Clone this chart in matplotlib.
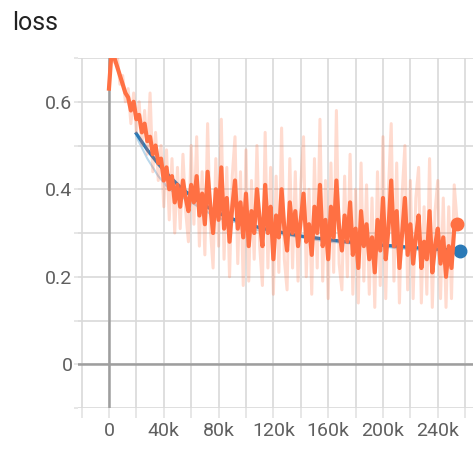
import numpy as np
import matplotlib
matplotlib.use("Agg")
import matplotlib.pyplot as plt
from matplotlib.ticker import FuncFormatter, MultipleLocator

plt.rcParams['font.family'] = ['Roboto', 'DejaVu Sans']

# run 1 (orange): smoothed and raw loss, one value every 2k steps
orange_smooth = [
    0.63, 0.72, 0.70, 0.68, 0.66, 0.64, 0.62, 0.61, 0.58, 0.60,
    0.56, 0.57, 0.53, 0.55, 0.51, 0.52, 0.48, 0.50, 0.46, 0.47,
    0.42, 0.45, 0.40, 0.43, 0.37, 0.41, 0.36, 0.42, 0.38, 0.35,
    0.41, 0.37, 0.43, 0.34, 0.39, 0.32, 0.44, 0.36, 0.30, 0.40,
    0.33, 0.45, 0.31, 0.38, 0.28, 0.36, 0.42, 0.31, 0.37, 0.29,
    0.39, 0.27, 0.35, 0.30, 0.40, 0.33, 0.27, 0.41, 0.30, 0.36,
    0.24, 0.34, 0.29, 0.40, 0.31, 0.26, 0.37, 0.30, 0.35, 0.27,
    0.33, 0.39, 0.28, 0.32, 0.25, 0.36, 0.30, 0.41, 0.27, 0.33,
    0.24, 0.36, 0.29, 0.42, 0.31, 0.26, 0.34, 0.28, 0.37, 0.25,
    0.31, 0.22, 0.35, 0.27, 0.32, 0.24, 0.29, 0.21, 0.33, 0.26,
    0.38, 0.24, 0.31, 0.42, 0.27, 0.35, 0.22, 0.30, 0.38, 0.25,
    0.32, 0.23, 0.29, 0.34, 0.22, 0.28, 0.24, 0.35, 0.21, 0.27,
    0.31, 0.23, 0.29, 0.20, 0.27, 0.22, 0.31, 0.32,
]
orange_raw = [
    0.63, 0.74, 0.69, 0.71, 0.64, 0.66, 0.60, 0.63, 0.55, 0.62,
    0.53, 0.60, 0.50, 0.58, 0.48, 0.62, 0.44, 0.53, 0.42, 0.50,
    0.36, 0.49, 0.33, 0.47, 0.30, 0.45, 0.31, 0.48, 0.35, 0.28,
    0.50, 0.32, 0.52, 0.27, 0.44, 0.25, 0.55, 0.31, 0.22, 0.47,
    0.27, 0.56, 0.24, 0.45, 0.20, 0.43, 0.52, 0.23, 0.44, 0.18,
    0.49, 0.19, 0.42, 0.24, 0.50, 0.27, 0.18, 0.53, 0.22, 0.45,
    0.16, 0.43, 0.21, 0.54, 0.24, 0.17, 0.47, 0.22, 0.44, 0.19,
    0.41, 0.52, 0.20, 0.40, 0.16, 0.47, 0.22, 0.56, 0.19, 0.42,
    0.15, 0.46, 0.21, 0.58, 0.23, 0.17, 0.43, 0.20, 0.48, 0.16,
    0.40, 0.14, 0.46, 0.19, 0.41, 0.16, 0.38, 0.13, 0.44, 0.18,
    0.52, 0.15, 0.40, 0.55, 0.19, 0.46, 0.14, 0.39, 0.50, 0.17,
    0.42, 0.15, 0.38, 0.45, 0.14, 0.36, 0.16, 0.47, 0.13, 0.35,
    0.42, 0.15, 0.38, 0.13, 0.36, 0.15, 0.41, 0.33,
]
orange_steps = np.arange(len(orange_smooth)) * 2000

# run 2 (blue)
blue_steps = [20000, 28000, 36000, 44000, 52000, 60000, 68000, 76000, 84000,
              92000, 100000, 110000, 120000, 130000, 140000, 150000, 160000,
              170000, 180000, 190000, 200000, 210000, 220000, 230000, 240000,
              248000, 256000]
blue_smooth = [0.527, 0.49, 0.458, 0.43, 0.405, 0.385, 0.367, 0.352, 0.34,
               0.33, 0.322, 0.312, 0.305, 0.299, 0.293, 0.289, 0.285, 0.281,
               0.278, 0.275, 0.272, 0.27, 0.267, 0.265, 0.263, 0.262, 0.26]
blue_raw = [0.52, 0.47, 0.43, 0.40, 0.385, 0.37, 0.355, 0.34, 0.33, 0.325,
            0.315, 0.305, 0.30, 0.295, 0.29, 0.285, 0.28, 0.278, 0.275, 0.27,
            0.27, 0.265, 0.263, 0.26, 0.26, 0.258, 0.258]

W, H = 473, 450
fig = plt.figure(figsize=(W / 100, H / 100), dpi=100)
ax = fig.add_axes([78 / W, 1 - 408 / H, (W - 78) / W, (408 - 58) / H])

ax.set_xlim(-22600, 265700)
ax.set_ylim(-0.1, 0.7)

ax.xaxis.set_major_locator(MultipleLocator(20000))
ax.yaxis.set_major_locator(MultipleLocator(0.1))
ax.xaxis.set_major_formatter(FuncFormatter(
    lambda v, p: ('0' if abs(v) < 1 else f'{int(round(v / 1000))}k')
    if v > -1 and int(round(v)) % 40000 == 0 else ''))
ax.yaxis.set_major_formatter(FuncFormatter(
    lambda v, p: ('0' if abs(v) < 1e-9 else f'{v:.1f}')
    if v > -0.01 and int(round(v * 10)) % 2 == 0 else ''))

ax.grid(True, color='#d9d9d9', linewidth=1.2)
ax.set_axisbelow(True)
for s in ax.spines.values():
    s.set_visible(False)
ax.tick_params(axis='x', length=7, width=1.2, color='#e3e3e3', pad=3,
               labelsize=14, labelcolor='#5f5f5f')
ax.tick_params(axis='y', length=3, width=1.2, color='#e3e3e3', pad=1,
               labelsize=14, labelcolor='#5f5f5f')

ax.axhline(0, color='#9e9e9e', linewidth=1.8, zorder=1)
ax.axvline(0, color='#9e9e9e', linewidth=1.8, zorder=1)

ax.plot(blue_steps, blue_raw, color='#b9d8ec', linewidth=1.5, zorder=2)
ax.plot(blue_steps, blue_smooth, color='#2a79b6', linewidth=2.4, zorder=3)
ax.plot(blue_steps[-1], blue_smooth[-1], 'o', color='#2a79b6',
        markersize=9, zorder=3, clip_on=False)

ax.plot(orange_steps, orange_raw, color='#ff7043', alpha=0.25,
        linewidth=2.2, zorder=4)
ax.plot(orange_steps, orange_smooth, color='#ff7043', linewidth=3.0, zorder=5)
ax.plot(orange_steps[-1], orange_smooth[-1], 'o', color='#ff7043',
        markersize=9, zorder=5, clip_on=False)

fig.text(12 / W, 1 - 30 / H, 'loss', fontsize=18, color='#222222',
         va='baseline', ha='left')

fig.savefig('out.png', dpi=100)
